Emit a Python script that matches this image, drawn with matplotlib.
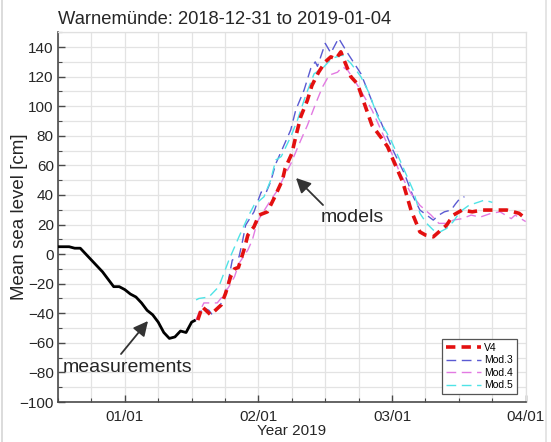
import numpy as np
import matplotlib
matplotlib.use("Agg")
import matplotlib.pyplot as plt
import matplotlib.dates as mdates
from matplotlib.lines import Line2D

plt.rcParams['font.family'] = ['Liberation Sans', 'DejaVu Sans']

# ---- data (hours relative to 2019-01-01 00:00, sea level in cm) ----
meas_h = [-12, -11, -10, -9, -8, -7, -6, -5, -4, -3, -2, -1, 0, 1, 2, 3, 4, 5, 6, 7, 8, 9, 10, 11, 12, 12.5]
meas_v = [5, 5, 5, 4, 4, 0, -4, -8, -12, -17, -22, -22, -24, -27, -29, -33, -38, -41, -46, -53, -57, -56, -52, -53, -46, -45]

v4_h = [13.1, 13.9, 15.4, 17.3, 18.1, 19.0, 19.7, 20.4, 21.4, 22.1, 23.2, 24.1, 25.6, 26.8, 28.3, 28.8,
        30.0, 30.7, 31.6, 32.8, 33.6, 34.8, 36.0, 37.0, 37.9, 38.8, 39.4, 40.6, 41.8, 43.0, 44.4, 46.0,
        47.2, 48.2, 49.9, 51.4, 53.0, 54.0, 55.4, 56.4, 57.8, 59.0, 60.6, 62.4, 64.2, 67.0, 68.6, 70.8, 72.0]
v4_v = [-44.6, -35.6, -41, -34.4, -26.5, -15.3, -10, -9, 2.8, 12.9, 18.5, 26.4, 28.6, 37.7, 50, 58,
        68, 79.4, 92.9, 104, 114, 123, 130, 133.4, 132, 136.8, 131, 120, 115, 102, 87, 79,
        72.6, 63.6, 49, 29.8, 15, 12.9, 11.7, 15, 19.6, 26.4, 29.8, 28.6, 29.8, 29.8, 29.8, 27.6, 24]

mod3_h = [13.0, 14.0, 15.1, 15.7, 16.9, 17.8, 18.5, 19.3, 20.5, 21.1, 21.7, 23.2, 23.8, 24.5, 25.3, 26.2,
          27.1, 29.8, 30.7, 32.2, 33.4, 34.2, 34.6, 36.0, 37.0, 38.4, 40.0, 42.4, 44.8, 46.6, 48.2, 50.2,
          51.8, 53.0, 54.7, 55.4, 56.4, 57.4, 58.6, 59.4, 60.2, 61.0]
mod3_v = [-44, -36, -38, -41, -36, -30, -20, -4, -2, 8, 19.6, 28.6, 35, 42, 41, 49,
          61, 84, 97.4, 111, 125.6, 130, 127, 142.5, 136, 146, 136, 122, 99.6, 84, 70, 54.6,
          38.8, 29.8, 25, 23, 26.4, 28.6, 29.8, 34, 37.7, 38.8]

mod4_h = [12.7, 13.3, 14.2, 16.6, 17.5, 18.7, 19.7, 20.5, 22.1, 22.9, 23.8, 24.7, 26.2, 27.4, 28.6, 29.8,
          31.6, 32.8, 34.3, 35.5, 36.7, 38.2, 39.1, 40.0, 42.0, 44.4, 46.6, 48.2, 49.4, 51.4, 53.0, 55.0,
          56.4, 57.8, 59.0, 60.6, 62.2, 63.8, 65.8, 67.4, 69.4, 70.1, 72.0]
mod4_v = [-45, -40, -33, -33, -28.8, -22, -15.3, -6.3, 2.8, 9.5, 21.9, 27.5, 36.5, 43, 52.3, 61,
          77, 87, 102, 113, 121, 123, 126.7, 124.5, 113, 97.4, 79, 66, 55, 41, 33, 26.4,
          20.8, 20.8, 23, 24, 26.4, 25, 27.6, 28.6, 24, 26.4, 22]

mod5_h = [12.8, 13.3, 15.1, 16.9, 18.7, 20.5, 22.1, 23.2, 25.0, 26.2, 27.1, 28.1, 29.8, 31.0, 32.5, 34.0,
          35.5, 37.2, 39.1, 40.6, 42.4, 43.9, 45.4, 47.8, 49.4, 51.8, 53.0, 54.2, 55.4, 56.6, 57.8, 59.0,
          60.2, 61.8, 63.4, 64.6, 66.0]
mod5_v = [-31, -30, -29, -22, -4, 11.7, 25, 33, 38.8, 50, 63.6, 66, 79.4, 90.6, 107.5, 122,
          125.6, 132.4, 134.6, 129, 120, 108.7, 93, 77, 63.6, 43, 27.6, 20.8, 16.3, 15, 17.4, 22,
          28.6, 33, 35, 36.5, 35]

base = np.datetime64('2019-01-01T00:00')


def to_dt(hours):
    return base + (np.array(hours) * 60).astype('timedelta64[m]')


fig = plt.figure(figsize=(5.51, 4.42), dpi=100)
ax = fig.add_axes([58 / 551, 40 / 442, 467.7 / 551, 369.7 / 442])

ax.plot(to_dt(meas_h), meas_v, color='black', lw=2.0, zorder=5)
ax.plot(to_dt(mod3_h), mod3_v, color='#5a5ad2', lw=1.0, ls=(0, (7, 4)), label='Mod.3', zorder=3)
ax.plot(to_dt(mod4_h), mod4_v, color='#e27ae2', lw=1.0, ls=(0, (7, 4)), label='Mod.4', zorder=3)
ax.plot(to_dt(mod5_h), mod5_v, color='#4fe3e6', lw=1.0, ls=(0, (7, 4)), label='Mod.5', zorder=3)
ax.plot(to_dt(v4_h), v4_v, color='#e31010', lw=2.6, ls=(0, (2.6, 1.7)), label='V4', zorder=4)

ax.set_xlim(np.datetime64('2018-12-31T12:00'), np.datetime64('2019-01-04T00:00'))
ax.set_ylim(-100, 150)

ax.xaxis.set_major_locator(mdates.DayLocator())
ax.xaxis.set_minor_locator(mdates.HourLocator(byhour=[0, 6, 12, 18]))
ax.xaxis.set_major_formatter(mdates.DateFormatter('%d/%m'))
ax.set_yticks(np.arange(-100, 141, 20))
ax.set_yticks(np.arange(-100, 151, 10), minor=True)

ax.grid(True, which='both', color='#e3e3e3', lw=0.9)
ax.set_axisbelow(True)
for s in ['top', 'right']:
    ax.spines[s].set_color('#e0e0e0')
    ax.spines[s].set_linewidth(0.9)
for s in ['left', 'bottom']:
    ax.spines[s].set_color('#4a4a4a')
    ax.spines[s].set_linewidth(1.2)
ax.tick_params(which='both', direction='in', colors='#4a4a4a', labelcolor='#262626',
               labelsize=11, top=False, right=False)
ax.tick_params(which='major', length=5, width=1.0)
ax.tick_params(which='minor', length=3, width=0.8)
ax.tick_params(axis='x', pad=6)
ax.tick_params(axis='y', pad=3)

ax.set_ylabel('Mean sea level [cm]', fontsize=13.5, color='#262626')
ax.yaxis.set_label_coords(-0.065, 0.5)
ax.set_xlabel('Year 2019', fontsize=11, color='#262626', labelpad=0)
ax.set_title('Warnemünde: 2018-12-31 to 2019-01-04', loc='left', fontsize=13.2,
             color='#262626', pad=6)

arrowprops = dict(arrowstyle='-|>', color='#333333', lw=1.3, mutation_scale=22, shrinkA=0, shrinkB=0)
ax.annotate('', xy=(148, 442 - 321), xycoords='figure pixels',
            xytext=(121, 442 - 354), textcoords='figure pixels', arrowprops=arrowprops)
ax.annotate('', xy=(296, 442 - 178), xycoords='figure pixels',
            xytext=(323, 442 - 205), textcoords='figure pixels', arrowprops=arrowprops)
fig.text(63 / 551, 1 - 367 / 442, 'measurements', fontsize=14, color='#262626', va='center', ha='left')
fig.text(321 / 551, 1 - 218 / 442, 'models', fontsize=14, color='#262626', va='center', ha='left')

handles, labels = ax.get_legend_handles_labels()
order = [3, 0, 1, 2]
leg = ax.legend([handles[i] for i in order], [labels[i] for i in order],
                loc='lower right', bbox_to_anchor=(0.981, 0.0216), borderaxespad=0,
                fontsize=7.5, handlelength=3.4, handletextpad=0.3, labelspacing=0.25,
                borderpad=0.35, fancybox=False, framealpha=1, edgecolor='#555555')
leg.get_frame().set_linewidth(0.9)

fig.add_artist(Line2D([2 / 551, 2 / 551], [0, 1], color='#d5d5d5', lw=1.2))
fig.add_artist(Line2D([546 / 551, 546 / 551], [0, 1], color='#e0e0e0', lw=1.2))

fig.savefig('out.png', dpi=100)
